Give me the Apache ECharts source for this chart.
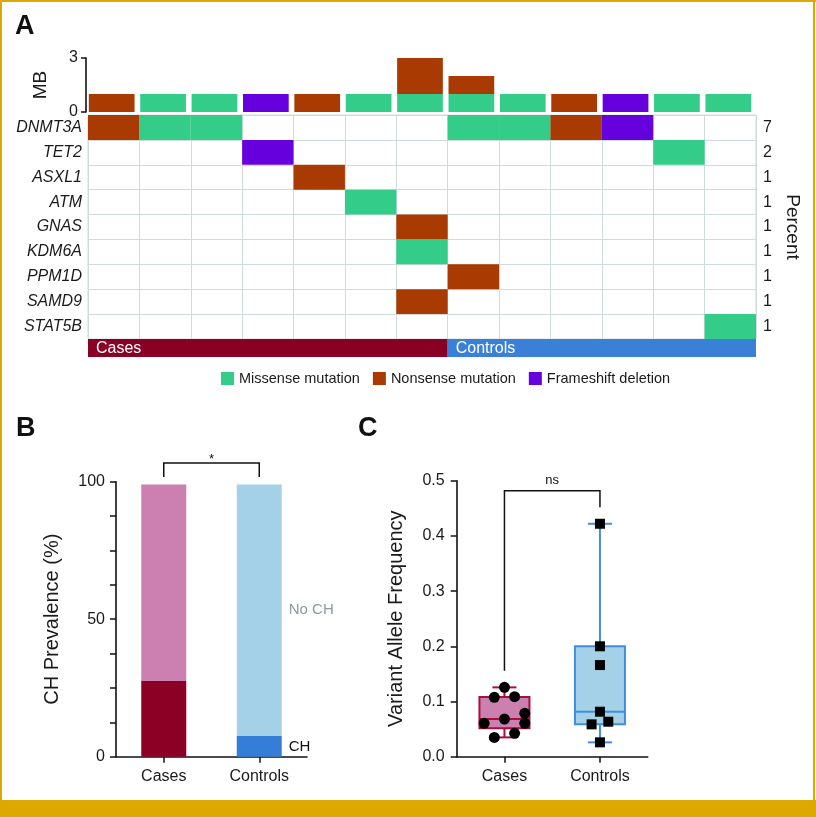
<!DOCTYPE html>
<html>
<head>
<meta charset="utf-8">
<script src="https://cdn.jsdelivr.net/npm/echarts@6/dist/echarts.min.js"></script>
<style>
html,body{margin:0;padding:0;background:#fff;}
#chart{width:816px;height:817px;}
</style>
</head>
<body>
<div id="chart"></div>
<script>
// ---------------- DATA ----------------
// Panel A: oncoprint
const genes = ['DNMT3A', 'TET2', 'ASXL1', 'ATM', 'GNAS', 'KDM6A', 'PPM1D', 'SAMD9', 'STAT5B'];
const samples = ['S1', 'S2', 'S3', 'S4', 'S5', 'S6', 'S7', 'S8', 'S9', 'S10', 'S11', 'S12', 'S13'];
const sampleGroups = ['Cases', 'Cases', 'Cases', 'Cases', 'Cases', 'Cases', 'Cases',
  'Controls', 'Controls', 'Controls', 'Controls', 'Controls', 'Controls'];
const mutationTypes = ['Missense mutation', 'Nonsense mutation', 'Frameshift deletion'];
// [sample index, gene, mutation type index]
const mutations = [
  [0, 'DNMT3A', 1], [1, 'DNMT3A', 0], [2, 'DNMT3A', 0], [3, 'TET2', 2], [4, 'ASXL1', 1],
  [5, 'ATM', 0], [6, 'GNAS', 1], [6, 'KDM6A', 0], [6, 'SAMD9', 1],
  [7, 'DNMT3A', 0], [7, 'PPM1D', 1], [8, 'DNMT3A', 0], [9, 'DNMT3A', 1],
  [10, 'DNMT3A', 2], [11, 'TET2', 0], [12, 'STAT5B', 0]
];
const mbAxisTicks = [0, 3];

// Panel B: CH prevalence (%)
const prevCategories = ['Cases', 'Controls'];
const prevCH = [27.5, 7.5];
const prevNoCH = [71.5, 91.5];
const prevSignif = '*';

// Panel C: variant allele frequency
const vafCategories = ['Cases', 'Controls'];
const vafCases = [0.1256, 0.1075, 0.1087, 0.0785, 0.0604, 0.0682, 0.0604, 0.035, 0.0423];
const vafControls = [0.422, 0.200, 0.166, 0.0815, 0.0634, 0.0586, 0.026];
const vafTicks = [0, 0.1, 0.2, 0.3, 0.4, 0.5];
const vafSignif = 'ns';

// ---------------- STYLE ----------------
const FONT = 'Liberation Sans, Arial, Helvetica, sans-serif';
const TXT = '#1a1a1a';
const typeColors = ['#33CC88', '#A83A02', '#6600DD'];
const groupColors = { Cases: '#8A0025', Controls: '#3A80D6' };
const gridLineColor = '#d0dcdc';
const chColors = ['#8B0024', '#347ED7'];
const noChColors = ['#CB80B1', '#A4D1E8'];
const boxFill = ['#CC80B0', '#A4D1E8'];
const boxStroke = ['#A5103C', '#3F8FE0'];
const frameColor = '#DDA800';

// ---------------- DERIVED ----------------
const mbByType = mutationTypes.map((t, ti) =>
  samples.map((s, si) => mutations.filter(m => m[0] === si && m[2] === ti).length));
const geneCounts = {};
genes.forEach(g => { geneCounts[g] = mutations.filter(m => m[1] === g).length; });
const heatData = mutations.map(m => [m[0], genes.indexOf(m[1]), m[2]]);
const groupNames = [...new Set(sampleGroups)];
const bandData = groupNames.map((g, gi) =>
  [sampleGroups.indexOf(g), sampleGroups.lastIndexOf(g), gi]);
const vafGroups = [vafCases, vafControls];

function prismQuantile(sorted, p) {
  const n = sorted.length, pos = p * (n + 1);
  const lo = Math.floor(pos), hi = Math.ceil(pos);
  if (lo < 1) return sorted[0];
  if (hi > n) return sorted[n - 1];
  return sorted[lo - 1] + (pos - lo) * (sorted[hi - 1] - sorted[lo - 1]);
}
function stats(arr) {
  const s = arr.slice().sort((a, b) => a - b);
  return { min: s[0], q1: prismQuantile(s, 0.25), med: prismQuantile(s, 0.5),
           q3: prismQuantile(s, 0.75), max: s[s.length - 1] };
}
// simple deterministic beeswarm (pixel offsets), heights in px
function beeswarm(heights, spacing, binH, minDist) {
  const idx = heights.map((h, i) => i).sort((a, b) => heights[a] - heights[b]);
  const rows = [];
  idx.forEach(i => {
    const last = rows[rows.length - 1];
    if (last && heights[i] - heights[last[0]] <= binH) last.push(i); else rows.push([i]);
  });
  const off = new Array(heights.length);
  const placed = [];
  const collides = (h, o) => placed.some(p => Math.hypot(heights[p] - h, off[p] - o) < minDist);
  rows.forEach(row => {
    const n = row.length;
    if (n === 1) {
      const h = heights[row[0]];
      const cands = [0, spacing, -spacing, 2 * spacing, -2 * spacing, 3 * spacing, -3 * spacing];
      off[row[0]] = cands.find(o => !collides(h, o));
      if (off[row[0]] === undefined) off[row[0]] = 0;
    } else if (n % 2 === 0) {
      row.forEach((i, k) => { off[i] = (k - (n - 1) / 2) * spacing; });
    } else {
      const r = row.slice().sort((a, b) => heights[b] - heights[a]);
      const seq = [0];
      for (let k = 1; seq.length < n; k++) { seq.push(-k * spacing); seq.push(k * spacing); }
      r.forEach((i, k) => { off[i] = seq[k]; });
    }
    row.forEach(i => placed.push(i));
  });
  return off;
}

// ---------------- CHART ----------------
const chart = echarts.init(document.getElementById('chart'), null, { renderer: 'canvas' });

const axisBlack = { show: true, lineStyle: { color: '#111', width: 1.6 } };
const tickBlack = { show: true, length: 6, lineStyle: { color: '#111', width: 1.5 } };

const series = [];
// top MB stacked bars
mutationTypes.forEach((t, ti) => {
  series.push({
    type: 'bar', name: t, xAxisIndex: 0, yAxisIndex: 0, stack: 'mb',
    barCategoryGap: '11%', itemStyle: { color: typeColors[ti] },
    data: mbByType[ti]
  });
});
// oncoprint cells
series.push({
  type: 'custom', xAxisIndex: 1, yAxisIndex: 1, encode: { x: 0, y: 1 }, data: heatData,
  renderItem: (params, api) => {
    const c = api.coord([api.value(0), api.value(1)]);
    const s = api.size([1, 1]);
    return { type: 'rect', shape: { x: c[0] - s[0] / 2, y: c[1] - s[1] / 2, width: s[0], height: s[1] },
      style: { fill: typeColors[api.value(2)] } };
  }
});
// group band
series.push({
  type: 'custom', xAxisIndex: 2, yAxisIndex: 3, encode: { x: [0, 1] }, data: bandData, clip: false,
  renderItem: (params, api) => {
    const w = api.size([1, 0])[0];
    const a = api.coord([api.value(0), 0]);
    const b = api.coord([api.value(1), 1]);
    const x0 = a[0] - w / 2, x1 = b[0] + w / 2;
    const name = groupNames[api.value(2)];
    return { type: 'group', children: [
      { type: 'rect', shape: { x: x0, y: b[1], width: x1 - x0, height: a[1] - b[1] },
        style: { fill: groupColors[name] } },
      { type: 'text', style: { text: name, x: x0 + 8, y: (a[1] + b[1]) / 2 + 1, fill: '#fff',
        font: '16px ' + FONT, verticalAlign: 'middle', align: 'left' } }
    ] };
  }
});
// Panel B bars
series.push({
  type: 'bar', name: 'CH', xAxisIndex: 3, yAxisIndex: 4, stack: 'prev', barWidth: 45,
  data: prevCH.map((v, i) => ({ value: v, itemStyle: { color: chColors[i] },
    label: i === 1 ? { show: true, position: 'right', distance: 7, formatter: 'CH',
      color: '#111', fontSize: 15, fontFamily: FONT } : { show: false } }))
});
series.push({
  type: 'bar', name: 'No CH', xAxisIndex: 3, yAxisIndex: 4, stack: 'prev', barWidth: 45,
  data: prevNoCH.map((v, i) => ({ value: v, itemStyle: { color: noChColors[i] },
    label: i === 1 ? { show: true, position: 'right', distance: 7, formatter: 'No CH',
      color: '#8a9c9c', fontSize: 15, fontFamily: FONT } : { show: false } }))
});
// Panel B significance bracket
series.push({
  type: 'custom', xAxisIndex: 3, yAxisIndex: 4, data: [[0, 1]], clip: false, silent: true,
  renderItem: (params, api) => {
    const tops = prevCH.map((v, i) => v + prevNoCH[i]);
    const top = Math.max(...tops);
    const p0 = api.coord([0, top + 2.7]), p1 = api.coord([0, top + 7.8]);
    const q0 = api.coord([1, top + 2.7]), q1 = api.coord([1, top + 7.8]);
    return { type: 'group', children: [
      { type: 'polyline', shape: { points: [p0, p1, q1, q0] },
        style: { stroke: '#111', lineWidth: 1.5, fill: null } },
      { type: 'text', style: { text: prevSignif, x: (p1[0] + q1[0]) / 2, y: p1[1] - 4,
        align: 'center', verticalAlign: 'middle', font: '13px ' + FONT, fill: '#111' } }
    ] };
  }
});
// Panel C boxes
series.push({
  type: 'custom', xAxisIndex: 4, yAxisIndex: 5, data: [[0], [1]], clip: false,
  renderItem: (params, api) => {
    const gi = params.dataIndex;
    const st = stats(vafGroups[gi]);
    const cx = api.coord([gi, 0])[0];
    const y = v => api.coord([gi, v])[1];
    const hw = 25, cw = 12, col = boxStroke[gi];
    const ls = { stroke: col, lineWidth: 2 };
    return { type: 'group', children: [
      { type: 'line', shape: { x1: cx, y1: y(st.max), x2: cx, y2: y(st.q3) }, style: ls },
      { type: 'line', shape: { x1: cx, y1: y(st.q1), x2: cx, y2: y(st.min) }, style: ls },
      { type: 'line', shape: { x1: cx - cw, y1: y(st.max), x2: cx + cw, y2: y(st.max) }, style: ls },
      { type: 'line', shape: { x1: cx - cw, y1: y(st.min), x2: cx + cw, y2: y(st.min) }, style: ls },
      { type: 'rect', shape: { x: cx - hw, y: y(st.q3), width: 2 * hw, height: y(st.q1) - y(st.q3) },
        style: { fill: boxFill[gi], stroke: col, lineWidth: 2 } },
      { type: 'line', shape: { x1: cx - hw, y1: y(st.med), x2: cx + hw, y2: y(st.med) }, style: ls }
    ] };
  }
});
// Panel C points
series.push({
  type: 'custom', xAxisIndex: 4, yAxisIndex: 5, data: [[0], [1]], clip: false, z: 5,
  renderItem: (params, api) => {
    const gi = params.dataIndex;
    const vals = vafGroups[gi];
    const base = api.coord([gi, 0]);
    const ys = vals.map(v => api.coord([gi, v])[1]);
    const heights = ys.map(yy => base[1] - yy);
    const spacing = gi === 0 ? 20.3 : 16.7;
    const offs = beeswarm(heights, spacing, 8, 9.5);
    const children = vals.map((v, i) => {
      const x = base[0] + offs[i], yy = ys[i];
      if (gi === 0) return { type: 'circle', shape: { cx: x, cy: yy, r: 5.5 }, style: { fill: '#000' } };
      return { type: 'rect', shape: { x: x - 5, y: yy - 5, width: 10, height: 10 }, style: { fill: '#000' } };
    });
    return { type: 'group', children };
  }
});
// Panel C significance bracket
series.push({
  type: 'custom', xAxisIndex: 4, yAxisIndex: 5, data: [[0, 1]], clip: false, silent: true,
  renderItem: (params, api) => {
    const maxes = vafGroups.map(g => Math.max(...g));
    const top = Math.max(...maxes) + 0.06;
    const a0 = api.coord([0, maxes[0] + 0.03]), a1 = api.coord([0, top]);
    const b0 = api.coord([1, maxes[1] + 0.03]), b1 = api.coord([1, top]);
    return { type: 'group', children: [
      { type: 'polyline', shape: { points: [a0, a1, b1, b0] },
        style: { stroke: '#111', lineWidth: 1.5, fill: null } },
      { type: 'text', style: { text: vafSignif, x: (a1[0] + b1[0]) / 2, y: a1[1] - 10,
        align: 'center', verticalAlign: 'middle', font: '13px ' + FONT, fill: '#111' } }
    ] };
  }
});

const option = {
  animation: false,
  backgroundColor: '#fff',
  textStyle: { fontFamily: FONT, color: TXT },
  legend: {
    data: mutationTypes, left: 221, top: 371, icon: 'rect', itemWidth: 13, itemHeight: 13,
    itemGap: 13, padding: 0, textStyle: { fontSize: 14.5, color: TXT, fontFamily: FONT }, selectedMode: false
  },
  graphic: [
    { type: 'rect', shape: { x: 0, y: 0, width: 816, height: 2 }, style: { fill: frameColor }, silent: true },
    { type: 'rect', shape: { x: 0, y: 0, width: 2, height: 817 }, style: { fill: frameColor }, silent: true },
    { type: 'rect', shape: { x: 813, y: 0, width: 2, height: 817 }, style: { fill: frameColor }, silent: true },
    { type: 'rect', shape: { x: 0, y: 800, width: 816, height: 17 }, style: { fill: frameColor }, silent: true },
    { type: 'text', left: 15, top: 13, style: { text: 'A', font: 'bold 27px ' + FONT, fill: '#111' } },
    { type: 'text', left: 16, top: 415, style: { text: 'B', font: 'bold 27px ' + FONT, fill: '#111' } },
    { type: 'text', left: 358, top: 415, style: { text: 'C', font: 'bold 27px ' + FONT, fill: '#111' } }
  ],
  grid: [
    { left: 86, top: 58, width: 668, height: 54 },
    { left: 88, top: 115, width: 668, height: 224, show: true, borderColor: gridLineColor, borderWidth: 1 },
    { left: 88, top: 339, width: 668, height: 18 },
    { left: 116, top: 481.7, width: 191, height: 275 },
    { left: 456.7, top: 480.7, width: 191, height: 276 }
  ],
  xAxis: [
    { type: 'category', gridIndex: 0, data: samples, show: false },
    { type: 'category', gridIndex: 1, data: samples, axisLine: { show: false }, axisTick: { show: false },
      axisLabel: { show: false }, splitLine: { show: true, lineStyle: { color: gridLineColor, width: 1 } } },
    { type: 'category', gridIndex: 2, data: samples, show: false },
    { type: 'category', gridIndex: 3, data: prevCategories, axisLine: axisBlack,
      axisTick: Object.assign({ alignWithLabel: true }, tickBlack),
      axisLabel: { fontSize: 16, color: TXT, margin: 12 } },
    { type: 'category', gridIndex: 4, data: vafCategories, axisLine: axisBlack,
      axisTick: Object.assign({ alignWithLabel: true }, tickBlack),
      axisLabel: { fontSize: 16, color: TXT, margin: 12 } }
  ],
  yAxis: [
    { type: 'value', gridIndex: 0, min: mbAxisTicks[0], max: mbAxisTicks[1], interval: mbAxisTicks[1] - mbAxisTicks[0],
      axisLine: axisBlack, axisTick: { show: true, length: 5, lineStyle: { color: '#111', width: 1.5 } },
      splitLine: { show: false }, axisLabel: { fontSize: 16, color: TXT, margin: 8 },
      name: 'MB', nameLocation: 'middle', nameRotate: 90, nameGap: 36,
      nameTextStyle: { fontSize: 19, color: TXT } },
    { type: 'category', gridIndex: 1, data: genes, inverse: true, axisLine: { show: false },
      axisTick: { show: false }, splitLine: { show: true, lineStyle: { color: gridLineColor, width: 1 } },
      axisLabel: { fontSize: 16, fontStyle: 'italic', color: TXT, margin: 6 } },
    { type: 'category', gridIndex: 1, data: genes, inverse: true, position: 'right', axisLine: { show: false },
      axisTick: { show: false }, splitLine: { show: false },
      axisLabel: { fontSize: 16, color: TXT, margin: 7, formatter: g => String(geneCounts[g]) },
      name: 'Percent', nameLocation: 'middle', nameRotate: -90, nameGap: 24,
      nameTextStyle: { fontSize: 19, color: TXT } },
    { type: 'value', gridIndex: 2, min: 0, max: 1, show: false },
    { type: 'value', gridIndex: 3, min: 0, max: 100, interval: 12.5, axisLine: axisBlack, axisTick: tickBlack,
      splitLine: { show: false },
      axisLabel: { fontSize: 16, color: TXT, margin: 11, formatter: v => (v % 50 === 0 ? String(v) : '') },
      name: 'CH Prevalence (%)', nameLocation: 'middle', nameRotate: 90, nameGap: 54,
      nameTextStyle: { fontSize: 20, color: TXT } },
    { type: 'value', gridIndex: 4, min: vafTicks[0], max: vafTicks[vafTicks.length - 1], interval: vafTicks[1] - vafTicks[0],
      axisLine: axisBlack, axisTick: tickBlack, splitLine: { show: false },
      axisLabel: { fontSize: 16, color: TXT, margin: 12, formatter: v => v.toFixed(1) },
      name: 'Variant Allele Frequency', nameLocation: 'middle', nameRotate: 90, nameGap: 50,
      nameTextStyle: { fontSize: 20, color: TXT } }
  ],
  series
};
chart.setOption(option);
</script>
</body>
</html>
